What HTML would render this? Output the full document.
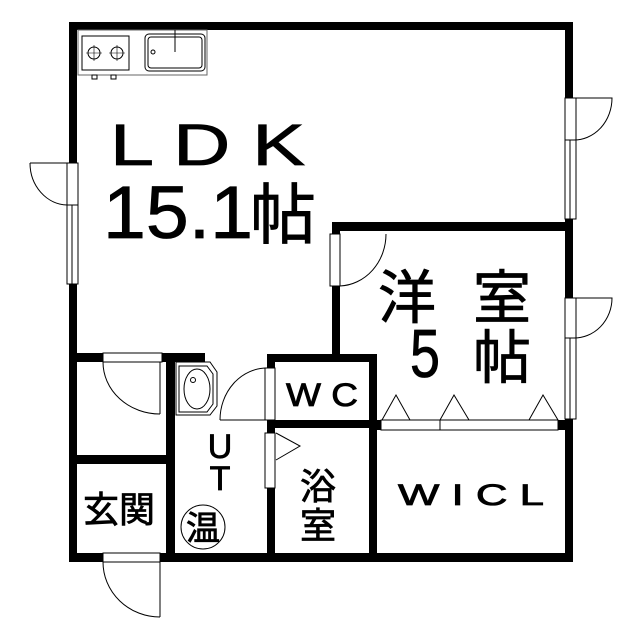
<!DOCTYPE html>
<html><head><meta charset="utf-8"><style>
html,body{margin:0;padding:0;background:#fff}
svg{display:block}
text{font-family:"Liberation Sans","Noto Sans CJK JP",sans-serif;fill:#000;stroke:#000;stroke-width:0.8}
</style></head><body>
<svg width="640" height="640" viewBox="0 0 640 640" xmlns="http://www.w3.org/2000/svg">
<g fill="#000">
<rect x="69" y="22" width="504" height="8"/>
<rect x="69" y="22" width="8" height="540"/>
<rect x="565" y="22" width="8" height="540"/>
<rect x="69" y="553" width="504" height="9"/>
<rect x="332" y="222" width="241" height="9"/>
<rect x="332" y="222" width="8" height="140"/>
<rect x="267" y="354" width="110" height="8"/>
<rect x="267" y="354" width="8" height="207"/>
<rect x="369" y="354" width="8" height="207"/>
<rect x="267" y="420" width="110" height="8"/>
<rect x="369" y="420" width="204" height="10"/>
<rect x="69" y="353" width="136" height="9"/>
<rect x="166" y="353" width="9" height="208"/>
<rect x="69" y="455" width="106" height="9"/>
</g>
<g fill="#fff" stroke="#000" stroke-width="1">
<rect x="67" y="163" width="11" height="121"/>
<line x1="72" y1="205" x2="72" y2="284"/>
<line x1="67" y1="205" x2="78" y2="205"/>
<rect x="565" y="98" width="11" height="121"/>
<line x1="570" y1="140" x2="570" y2="219"/>
<line x1="565" y1="140" x2="576" y2="140"/>
<rect x="565" y="298" width="11" height="121"/>
<line x1="570" y1="338" x2="570" y2="419"/>
<line x1="565" y1="338" x2="576" y2="338"/>
<rect x="330" y="234" width="10" height="52"/>
<rect x="265" y="368" width="10" height="52"/>
<rect x="265" y="433" width="10" height="55"/>
<rect x="103" y="353" width="59" height="9"/>
<rect x="103" y="553" width="57" height="9"/>
<rect x="381" y="420" width="177" height="10"/>
<line x1="440" y1="420" x2="440" y2="430"/>
</g>
<g fill="none" stroke="#000" stroke-width="1">
<path d="M30 163 L67 163 M30 163 A38 42 0 0 0 67 205"/>
<path d="M576 98 L612 98 A38 42 0 0 1 573 140"/>
<path d="M576 298 L612 298 A38 40 0 0 1 573 338"/>
<path d="M386 234 A48 52 0 0 1 340 286"/>
<path d="M220 420 L267 420 M220 420 A47 52 0 0 1 267 368"/>
<path d="M160 362 L160 414 M103 362 A57 52 0 0 0 160 414"/>
<path d="M160 562 L160 617 M103 562 A57 55 0 0 0 160 617"/>
<path d="M276 433 L300 446 L276 460"/>
<path d="M382 420 L396 395 L410 420 M440 420 L454 395 L469 420 M529 420 L543 395 L558 420"/>
<rect x="78" y="30" width="129" height="45" stroke="#666"/>
<rect x="82" y="36" width="47" height="34"/>
<circle cx="94" cy="53" r="6"/><circle cx="117" cy="53" r="6"/>
<path d="M94 45v16M86 53h16M117 45v16M109 53h16" stroke-width="0.6"/>
<rect x="92" y="75" width="5" height="4"/><rect x="111" y="75" width="5" height="4"/>
<rect x="145" y="34" width="60" height="37" rx="4"/>
<rect x="148" y="37" width="54" height="31" rx="3"/>
<line x1="175" y1="30" x2="175" y2="52"/>
<circle cx="153" cy="52" r="2"/>
<path d="M176 362 L210 362 L217 372 L217 406 L210 415 L176 415 Z"/>
<path d="M179 366 L207 366 L213 374 L213 404 L207 412 L179 412 Z"/>
<ellipse cx="197" cy="389" rx="13" ry="20"/>
<circle cx="193" cy="380" r="2.5"/>
<circle cx="203" cy="527" r="22"/>
</g>
<text x="110" y="165" font-size="58" textLength="195" lengthAdjust="spacingAndGlyphs">L D K</text>
<text x="103" y="238" font-size="74" textLength="150" lengthAdjust="spacingAndGlyphs">15.1</text>
<text x="250" y="238" font-size="66">帖</text>
<text x="378" y="318" font-size="58">洋</text>
<text x="473" y="318" font-size="58">室</text>
<text x="410" y="377" font-size="68" textLength="30" lengthAdjust="spacingAndGlyphs">5</text>
<text x="473" y="378" font-size="58">帖</text>
<text x="286" y="406" font-size="32" textLength="72" lengthAdjust="spacingAndGlyphs">W C</text>
<text x="220" y="458" font-size="34" text-anchor="middle">U</text>
<text x="220" y="490" font-size="34" text-anchor="middle">T</text>
<text x="83" y="522" font-size="36">玄関</text>
<text x="203" y="540" font-size="34" text-anchor="middle">温</text>
<text x="318" y="499" font-size="36" text-anchor="middle">浴</text>
<text x="318" y="538" font-size="36" text-anchor="middle">室</text>
<text x="398" y="505" font-size="30" textLength="146" lengthAdjust="spacingAndGlyphs">W I C L</text>
</svg>
</body></html>
